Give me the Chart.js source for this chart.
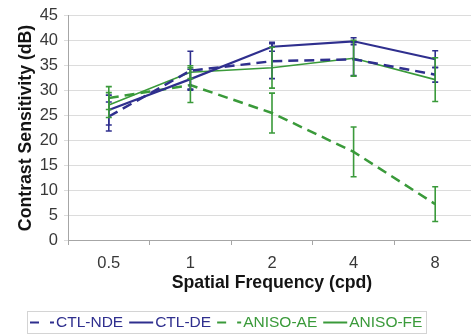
<!DOCTYPE html>
<html lang="en">
<head>
  <meta charset="UTF-8" />
  <title>Contrast Sensitivity</title>
  <script src="https://cdn.jsdelivr.net/npm/chart.js"></script>
  <style>
    html, body { margin: 0; padding: 0; background: #fff; overflow: hidden; }
    canvas { display: block; }
  </style>
</head>
<body>
  <canvas id="csChart" width="478" height="334"></canvas>

  <script>
    // spatial frequencies (cpd)
    const categories = ["0.5", "1", "2", "4", "8"];

    // mean contrast sensitivity (dB) and error bar half-lengths
    const ctlNde = [24.8, 34.0, 35.9, 36.3, 33.2];
    const ctlNdeErr = [2.9, 3.9, 3.5, 3.3, 1.5];
    const ctlDe = [26.1, 32.3, 38.8, 39.9, 36.3];
    const ctlDeErr = [3.0, 2.0, 0.9, 0.7, 1.7];
    const anisoAe = [28.5, 31.1, 25.5, 17.7, 7.2];
    const anisoAeErr = [2.3, 3.5, 4.0, 5.0, 3.5];
    const anisoFe = [27.1, 33.7, 34.6, 36.5, 32.2];
    const anisoFeErr = [2.5, 1.3, 4.1, 3.6, 4.4];

    const navy = "#2f2f8e";
    const green = "#3a9a3a";

    // draws the vertical error bars with small caps
    const errorBars = {
      id: "errorBars",
      afterDatasetsDraw(chart) {
        const ctx = chart.ctx;
        const y = chart.scales.y;
        chart.data.datasets.forEach((ds, i) => {
          const meta = chart.getDatasetMeta(i);
          ctx.save();
          ctx.strokeStyle = ds.borderColor;
          ctx.lineWidth = 1.6;
          ctx.setLineDash([]);
          meta.data.forEach((pt, j) => {
            const v = ds.data[j];
            const e = ds.errors[j];
            const top = y.getPixelForValue(v + e);
            const bot = y.getPixelForValue(v - e);
            ctx.beginPath();
            ctx.moveTo(pt.x, top);
            ctx.lineTo(pt.x, bot);
            ctx.moveTo(pt.x - 3, top);
            ctx.lineTo(pt.x + 3, top);
            ctx.moveTo(pt.x - 3, bot);
            ctx.lineTo(pt.x + 3, bot);
            ctx.stroke();
          });
          ctx.restore();
        });
      }
    };

    // boxed legend under the axis title, text in series colour
    const boxLegend = {
      id: "boxLegend",
      afterDraw(chart) {
        const ctx = chart.ctx;
        ctx.save();
        ctx.strokeStyle = "#d4d4d4";
        ctx.lineWidth = 1;
        ctx.strokeRect(27.5, 311.5, 399, 22);
        ctx.font = "15.5px 'Liberation Sans', Arial, sans-serif";
        ctx.textBaseline = "middle";
        let x = 30;
        const cy = 322.5;
        chart.data.datasets.forEach(ds => {
          ctx.strokeStyle = ds.borderColor;
          ctx.lineWidth = 2;
          ctx.setLineDash(ds.borderDash.length ? [9, 11] : []);
          ctx.beginPath();
          ctx.moveTo(x, cy);
          ctx.lineTo(x + 24, cy);
          ctx.stroke();
          x += 26;
          ctx.fillStyle = ds.borderColor;
          ctx.fillText(ds.label, x, cy);
          x += ctx.measureText(ds.label).width + 6;
        });
        ctx.restore();
      }
    };

    const chart = new Chart(document.getElementById("csChart"), {
      type: "line",
      data: {
        labels: categories,
        datasets: [
          { label: "CTL-NDE", data: ctlNde, errors: ctlNdeErr, borderColor: navy, borderWidth: 2.5, borderDash: [10, 6] },
          { label: "CTL-DE", data: ctlDe, errors: ctlDeErr, borderColor: navy, borderWidth: 2.2, borderDash: [] },
          { label: "ANISO-AE", data: anisoAe, errors: anisoAeErr, borderColor: green, borderWidth: 2.5, borderDash: [10, 6] },
          { label: "ANISO-FE", data: anisoFe, errors: anisoFeErr, borderColor: green, borderWidth: 1.6, borderDash: [] }
        ]
      },
      options: {
        responsive: false,
        animation: false,
        devicePixelRatio: 1,
        elements: {
          point: { radius: 0 },
          line: { tension: 0, fill: false }
        },
        layout: { padding: { top: 13, right: 2, bottom: 28, left: 0 } },
        plugins: {
          legend: { display: false },
          tooltip: { enabled: false }
        },
        scales: {
          x: {
            offset: true,
            grid: { offset: true, drawOnChartArea: false, tickLength: 5, color: "#a6a6a6" },
            border: { color: "#a6a6a6" },
            ticks: { color: "#383838", padding: 9, font: { family: "'Liberation Sans', Arial", size: 16.5 } },
            title: {
              display: true,
              text: "Spatial Frequency (cpd)",
              color: "#141414",
              font: { family: "'Liberation Sans', Arial", size: 17.7, weight: "bold" },
              padding: { top: 0, bottom: 12 }
            },
            afterFit(scale) { scale.height = 66; }
          },
          y: {
            min: 0,
            max: 45,
            grid: { color: "#dcdcdc", tickLength: 4 },
            border: { color: "#a6a6a6" },
            ticks: { stepSize: 5, color: "#383838", padding: 6, font: { family: "'Liberation Sans', Arial", size: 16.5 } },
            title: {
              display: true,
              text: "Contrast Sensitivity (dB)",
              color: "#141414",
              font: { family: "'Liberation Sans', Arial", size: 17.7, weight: "bold" },
              padding: { top: 15, bottom: 0 }
            },
            afterFit(scale) { scale.width = 68; }
          }
        }
      },
      plugins: [errorBars, boxLegend]
    });
  </script>
</body>
</html>
